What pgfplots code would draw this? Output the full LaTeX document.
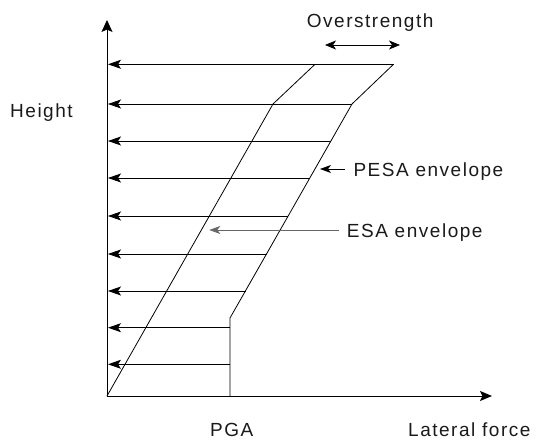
\documentclass[border=0pt]{standalone}
\usepackage{pgfplots}
\pgfplotsset{compat=1.18}
\usepackage{pgfplotstable}
\usepackage{fontspec}
\setmainfont[LetterSpace=8]{Liberation Sans}
\usetikzlibrary{arrows.meta}
\definecolor{txt}{HTML}{1A1A1A}

% floor force arrows: start at envelope (x,y), pointing to the height axis
\pgfplotstableread{
x      y      u
286.5  331.7  -285.5
245.0  292.0  -244.0
223.9  255.0  -222.9
202.8  218.0  -201.8
181.2  180.0  -180.2
159.6  142.0  -158.6
138.5  105.0  -137.5
123.0  68.3   -122.0
123.0  31.7   -122.0
}\floors

\pgfplotstableread{
x      y
123.0  0
123.0  78
245.0  292
286.5  331.7
}\pesa

\pgfplotstableread{
x      y
0      0
166    292
208    331.7
}\esa

\begin{document}
\begin{tikzpicture}
\begin{axis}[
  scale only axis,
  width=385bp, height=376bp,
  xmin=0, xmax=385, ymin=0, ymax=376,
  enlargelimits=false,
  axis lines=left,
  xtick=\empty, ytick=\empty,
  clip=false,
  axis line style={line width=0.9bp, black},
  x axis line style={-{Stealth[length=12bp,width=10bp,inset=2.5bp]}},
  y axis line style={-{Stealth[length=12bp,width=11bp,inset=2.5bp]}},
]
\path (axis cs:-107,-45) rectangle (axis cs:431,396);

\addplot[black, line width=0.8bp,
  quiver={u=\thisrow{u}, v=0},
  -{Stealth[length=13bp,width=9bp,inset=3bp]}] table[x=x,y=y] {\floors};

\addplot[black, line width=0.8bp, mark=none] table[x=x,y=y] {\pesa};
\addplot[black, line width=0.8bp, mark=none] table[x=x,y=y] {\esa};

% annotation arrows
\addplot[black, line width=0.8bp, mark=none,
  {Stealth[length=11bp,width=9bp,inset=3bp]}-{Stealth[length=11bp,width=9bp,inset=3bp]}]
  coordinates {(218,351) (293,351)};
\addplot[black, line width=0.8bp, mark=none,
  -{Stealth[length=11bp,width=8bp,inset=3bp]}]
  coordinates {(238,227) (213,227)};
\addplot[black!60, line width=0.8bp, mark=none,
  -{Stealth[length=11bp,width=8bp,inset=3bp]}]
  coordinates {(232.3,166) (102.3,166)};

\begin{scope}[every node/.style={inner sep=0pt, anchor=base west, text=txt,
    font=\fontsize{19bp}{21bp}\selectfont}]
\node at (axis cs:-97,278) {Height};
\node at (axis cs:199.7,368.7) {Overstrength};
\node at (axis cs:246.3,219.3) {PESA envelope};
\node at (axis cs:239.7,158.3) {ESA envelope};
\node at (axis cs:103,-40) {PGA};
\node at (axis cs:301,-40) {Lateral force};
\end{scope}
\end{axis}
\end{tikzpicture}
\end{document}
